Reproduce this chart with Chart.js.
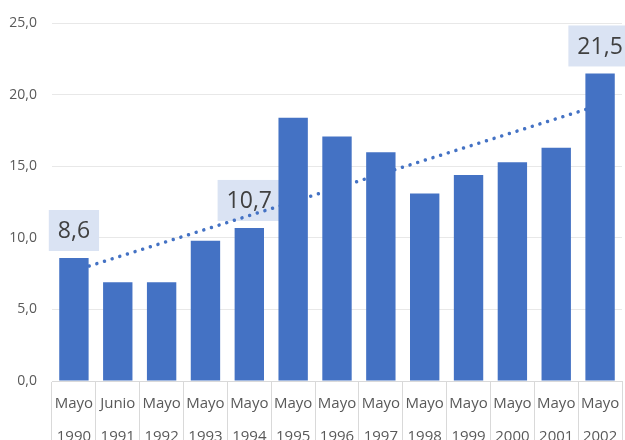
<!DOCTYPE html>
<html>
<head>
<meta charset="utf-8">
<script src="https://cdn.jsdelivr.net/npm/chart.js@4/dist/chart.umd.min.js"></script>
<style>
  html, body { margin: 0; padding: 0; background: #ffffff; }
  #grafico { display: block; }
</style>
</head>
<body>
<canvas id="grafico" width="625" height="440"></canvas>
<script>
// Meses y años de cada medición
const meses = ['Mayo', 'Junio', 'Mayo', 'Mayo', 'Mayo', 'Mayo', 'Mayo', 'Mayo', 'Mayo', 'Mayo', 'Mayo', 'Mayo', 'Mayo'];
const anios = ['1990', '1991', '1992', '1993', '1994', '1995', '1996', '1997', '1998', '1999', '2000', '2001', '2002'];

// Valores de cada barra
const valores = [8.6, 6.9, 6.9, 9.8, 10.7, 18.4, 17.1, 16.0, 13.1, 14.4, 15.3, 16.3, 21.5];

// Extremos de la línea de tendencia (primer y último punto)
const tendenciaInicio = 7.7;
const tendenciaFin = 19.3;

// Barras que llevan etiqueta con su valor
const barrasEtiquetadas = [0, 4, 12];

// Etiquetas del eje Y
const etiquetasY = ['0,0', '5,0', '10,0', '15,0', '20,0', '25,0'];

const azul = '#4472C4';
const fuente = "'Open Sans', 'Noto Sans', sans-serif";

const etiquetas = meses.map((m, i) => [m, anios[i]]);
const tendencia = valores.map((v, i) => i === 0 ? tendenciaInicio : (i === valores.length - 1 ? tendenciaFin : null));

function formato(v) {
    return v.toFixed(1).replace('.', ',');
}

// Cajas con el valor encima de algunas barras
const cajasValor = {
    id: 'cajasValor',
    beforeDatasetsDraw(chart) {
        const ctx = chart.ctx;
        const meta = chart.getDatasetMeta(0);
        ctx.save();
        ctx.font = '23px ' + fuente;
        ctx.textAlign = 'center';
        ctx.textBaseline = 'middle';
        barrasEtiquetadas.forEach(i => {
            const barra = meta.data[i];
            const texto = formato(valores[i]);
            const ancho = ctx.measureText(texto).width + 18;
            const alto = 41;
            const abajo = barra.y - 7;
            ctx.fillStyle = '#DAE3F3';
            ctx.fillRect(barra.x - ancho / 2, abajo - alto, ancho, alto);
            ctx.fillStyle = '#404040';
            ctx.fillText(texto, barra.x, abajo - alto / 2 + 1);
        });
        ctx.restore();
    }
};

new Chart(document.getElementById('grafico'), {
    data: {
        labels: etiquetas,
        datasets: [
            {
                type: 'bar',
                data: valores,
                backgroundColor: azul,
                barPercentage: 0.67,
                categoryPercentage: 1,
                order: 0
            },
            {
                type: 'line',
                data: tendencia,
                borderColor: azul,
                borderWidth: 3.5,
                borderDash: [0.01, 8],
                borderCapStyle: 'round',
                pointRadius: 0,
                spanGaps: true,
                fill: false,
                order: 1
            }
        ]
    },
    options: {
        responsive: false,
        animation: false,
        layout: { padding: { top: 22, right: 3, left: 0, bottom: 0 } },
        plugins: {
            legend: { display: false },
            tooltip: { enabled: false }
        },
        scales: {
            x: {
                offset: true,
                grid: {
                    offset: true,
                    drawOnChartArea: false,
                    drawTicks: true,
                    tickLength: 60,
                    color: '#D9D9D9'
                },
                border: { display: true, color: '#D9D9D9' },
                ticks: {
                    autoSkip: false,
                    maxRotation: 0,
                    padding: -53.5,
                    color: '#595959',
                    font: { family: fuente, size: 15, lineHeight: 2.2 }
                },
                afterFit(escala) { escala.height = 59; }
            },
            y: {
                min: 0,
                max: 25,
                ticks: {
                    stepSize: 5,
                    padding: 15,
                    color: '#595959',
                    font: { family: fuente, size: 14 },
                    callback: (v, i) => etiquetasY[i]
                },
                grid: { color: '#E8E8E8', drawTicks: false },
                border: { display: false },
                afterFit(escala) { escala.width = 52; }
            }
        }
    },
    plugins: [cajasValor]
});
</script>
</body>
</html>
